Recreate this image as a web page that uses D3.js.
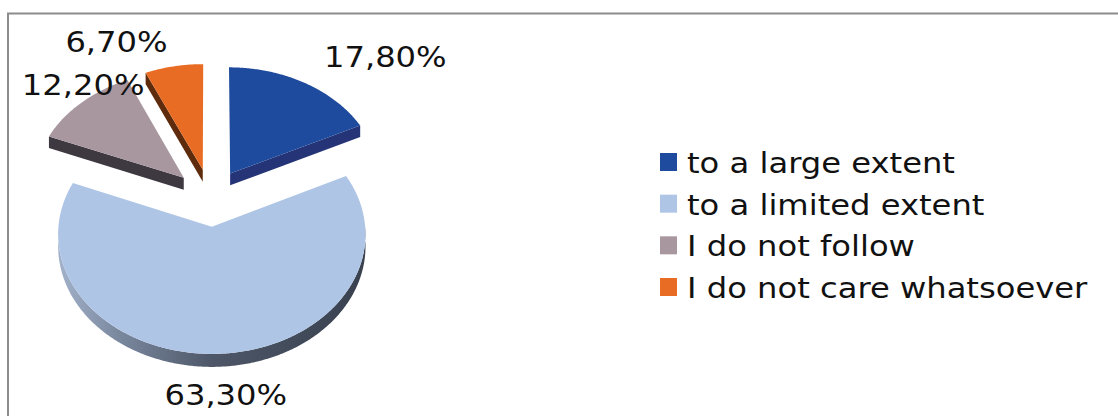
<!DOCTYPE html>
<html>
<head>
<meta charset="utf-8">
<script src="https://cdn.jsdelivr.net/npm/d3@7/dist/d3.min.js"></script>
<style>
  html, body { margin: 0; padding: 0; background: #ffffff; }
  svg { display: block; font-family: "DejaVu Sans", Verdana, sans-serif; }
</style>
</head>
<body>
<svg id="chart" width="1118" height="416"></svg>
<script>
// Survey answers and their shares (%)
const categories = ["to a large extent", "to a limited extent", "I do not follow", "I do not care whatsoever"];
const values = [17.8, 63.3, 12.2, 6.7];
const faceColors = ["#1e4b9d", "#afc5e6", "#a8979f", "#e96c24"];
const wallColors = ["#243477", null, "#3e3841", "#5e2c0c"];

const fmt = v => d3.format(".2f")(v).replace(".", ",") + "%";

const svg = d3.select("#chart");
const W = 1118, H = 416;

// outer frame (extends past the right and bottom edges)
svg.append("rect")
  .attr("x", 8).attr("y", 13.5)
  .attr("width", 1300).attr("height", 600)
  .attr("fill", "none").attr("stroke", "#8c8c8c").attr("stroke-width", 2);

// 3D pie projection: disk in a tilted plane, mild perspective
const cx = 210.5, cy = 197.5;
const R = 151;          // disk radius (plane units)
const tilt = 0.7655;    // vertical foreshortening
const persp = 0.000411; // perspective strength
const depth = 12;       // slab thickness in pixels
const explode = 37.5;   // explosion distance (plane units)

const rScale = d3.scaleLinear().domain([0, 1]).range([0, R]);

function project(X, Z, drop) {
  const f = 1 / (1 - Z * persp);
  return [cx + X * f, cy + Z * tilt * f + (drop ? depth * f : 0)];
}

const arcs = d3.pie().sort(null).value(d => d)(values);

const slices = arcs.map((a, i) => {
  const mid = (a.startAngle + a.endAngle) / 2;
  const ox = explode * Math.sin(mid), oz = -explode * Math.cos(mid);
  const pt = (ang, r, drop) => project(ox + r * Math.sin(ang), oz - r * Math.cos(ang), drop);
  return { i, a, mid, ox, oz, pt };
});

function arcPoints(s, a0, a1, drop) {
  const n = Math.max(2, Math.ceil((a1 - a0) / 0.01));
  return d3.range(n + 1).map(k => s.pt(a0 + (a1 - a0) * k / n, rScale(1), drop));
}

const line = d3.line();

// gradient for the curved front wall of the big slice
const defs = svg.append("defs");
const grad = defs.append("linearGradient")
  .attr("id", "frontWall")
  .attr("gradientUnits", "userSpaceOnUse")
  .attr("x1", 57).attr("y1", 0).attr("x2", 367).attr("y2", 0);
[[0, "#a3b3cb"], [0.2, "#7a889e"], [0.5, "#4d5768"], [1, "#39414f"]]
  .forEach(([o, c]) => grad.append("stop").attr("offset", o).attr("stop-color", c));

const pieG = svg.append("g");

// walls (drawn first, faces on top)
slices.forEach(s => {
  const { startAngle: a0, endAngle: a1 } = s.a;
  const wallFill = wallColors[s.i] || "url(#frontWall)";
  // radial wall at start angle
  if (Math.sin(a0) < -1e-6) {
    const pts = [s.pt(a0, 0, false), s.pt(a0, rScale(1), false), s.pt(a0, rScale(1), true), s.pt(a0, 0, true)];
    pieG.append("path").attr("d", line(pts) + "Z").attr("fill", wallFill);
  }
  // radial wall at end angle
  if (Math.sin(a1) > 1e-6) {
    const pts = [s.pt(a1, 0, false), s.pt(a1, rScale(1), false), s.pt(a1, rScale(1), true), s.pt(a1, 0, true)];
    pieG.append("path").attr("d", line(pts) + "Z").attr("fill", wallFill);
  }
  // curved outer wall, front half only
  const v0 = Math.max(a0, Math.PI / 2), v1 = Math.min(a1, 3 * Math.PI / 2);
  if (v1 > v0) {
    const top = arcPoints(s, v0, v1, false);
    const bot = arcPoints(s, v0, v1, true).reverse();
    pieG.append("path").attr("d", line(top.concat(bot)) + "Z").attr("fill", wallFill);
  }
});

// top faces
slices.forEach(s => {
  const { startAngle: a0, endAngle: a1 } = s.a;
  const pts = [s.pt(a0, 0, false)].concat(arcPoints(s, a0, a1, false));
  pieG.append("path").attr("d", line(pts) + "Z").attr("fill", faceColors[s.i]);
});

// value labels, placed beyond each slice's mid-angle
const labelNudge = [[67, 1.5], [7, 24], [21, 6.5], [-52, 5]];
const stretch = 1.11;
slices.forEach(s => {
  const p = s.pt(s.mid, rScale(1.2), false);
  const [dx, dy] = labelNudge[s.i];
  svg.append("text")
    .attr("transform", `translate(${p[0] + dx},${p[1] + dy}) scale(${stretch},1)`)
    .attr("text-anchor", "middle")
    .attr("font-size", 29)
    .attr("fill", "#111")
    .text(fmt(values[s.i]));
});

// legend
const legend = svg.append("g");
const rowY = d3.scalePoint().domain(categories).range([173, 298]);
categories.forEach((c, i) => {
  const y = rowY(c);
  legend.append("rect")
    .attr("x", 660).attr("y", y - 20)
    .attr("width", 17).attr("height", 18)
    .attr("fill", faceColors[i]);
  legend.append("text")
    .attr("transform", `translate(687,${y}) scale(${stretch},1)`)
    .attr("font-size", 29)
    .attr("fill", "#111")
    .text(c);
});
</script>
</body>
</html>
